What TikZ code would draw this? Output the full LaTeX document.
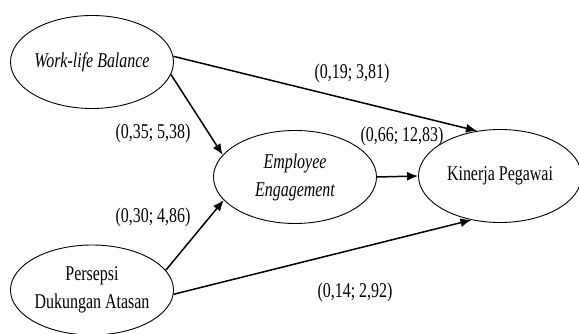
\documentclass[tikz,border=0pt]{standalone}
\usepackage{fontspec}
\setmainfont{Liberation Serif}[FakeStretch=0.76]
\usetikzlibrary{positioning,calc,shapes,arrows.meta}

\begin{document}
\begin{tikzpicture}
[
   x=1pt, y=-1pt,
   align=center,
   font=\fontsize{21}{28}\selectfont
]

\tikzset{var/.style = {shape=ellipse, draw, line width=0.9pt, inner sep=0pt, minimum width=163pt, minimum height=93pt}}
\tikzset{edge/.style = {-{Latex[length=11pt,width=9pt]}, line width=1.5pt}}
\useasboundingbox (0,0) rectangle (579,334);
% nodes
\node[var] (wlb) at (92,62) {\itshape Work-life Balance};
\node[var] (ee) at (295,177) {\itshape Employee\\\itshape Engagement};
\node[var] (kp) at (500,176) {Kinerja Pegawai};
\node[var, minimum height=90pt] (pda) at (92,290) {Persepsi\\Dukungan Atasan};
% labels
\node (c1) at (352,73) {(0,19; 3,81)};
\node (c2) at (153,133) {(0,35; 5,38)};
\node (c3) at (402,136) {(0,66; 12,83)};
\node (c4) at (153,217) {(0,30; 4,86)};
\node (c5) at (355,292) {(0,14; 2,92)};
% arcs
\path[edge]
   (wlb.4) edge (kp.117)
   (wlb.-9) edge (ee.163)
   (ee.east) edge (kp.west)
   (pda.15) edge (ee.-162)
   (pda.-3) edge (kp.-123)
;
\end{tikzpicture}
\end{document}
